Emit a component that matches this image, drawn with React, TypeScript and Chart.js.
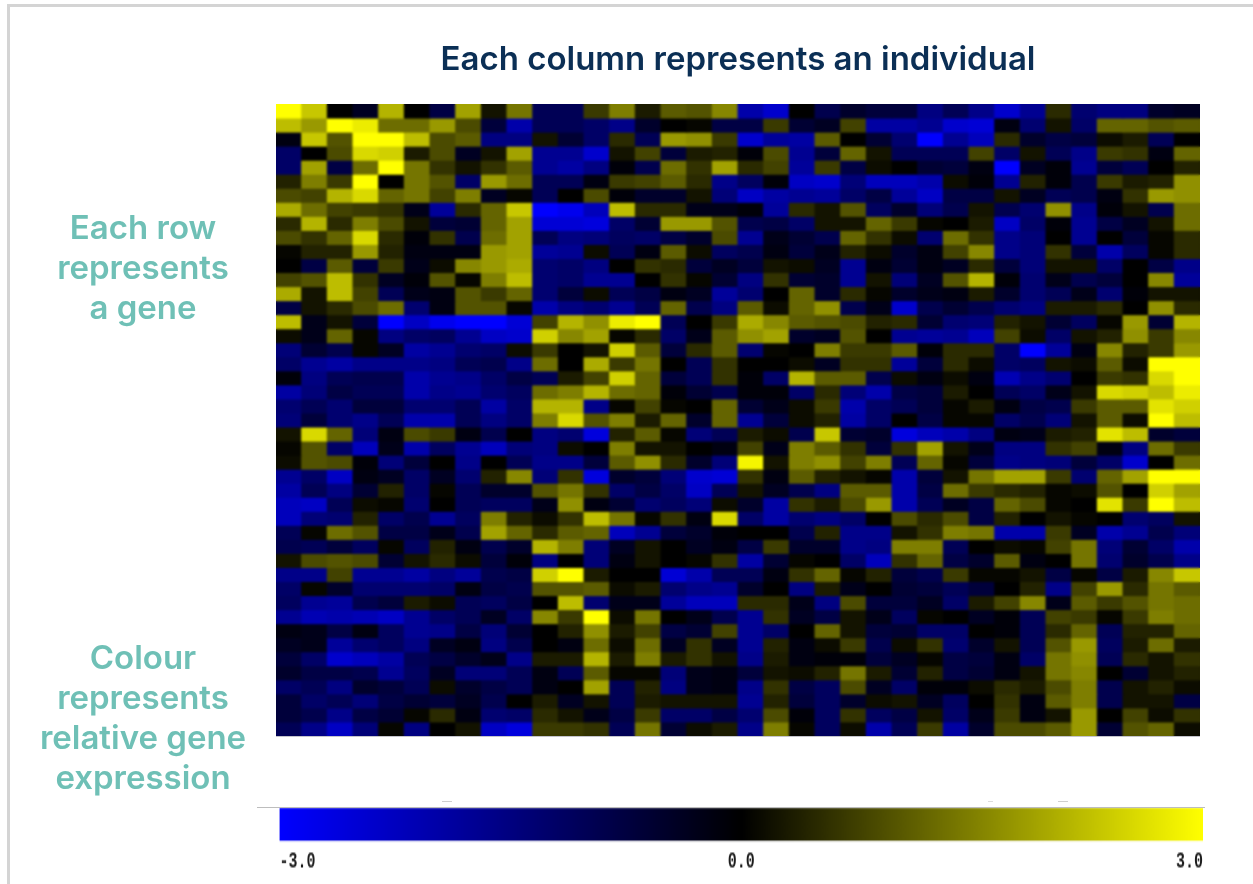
import React, { useEffect, useRef } from "react";
import { Chart, registerables } from "chart.js";

Chart.register(...registerables);

const columns = Array.from({ length: 36 }, (_, i) => `Individual ${i + 1}`);

const row00 = [3,2.4,0,-.4,2.2,0,-.8,2,.3,1.5,-1,-1,.8,1.6,.4,1.2,1.1,1.7,-2,-2.4,0,-.9,-.5,-.7,-.7,-1.5,-1,-1.6,-2.4,-1.7,.6,-1.3,-1.5,-1.5,-.5,-.4];
const row01 = [2.3,1.9,3,2.8,1.4,1.4,1.9,1,-.7,-2,-1,-1,-1.2,-1.6,-.5,0,.1,-.8,-.8,.8,-.6,-.4,.9,-1.9,-1.9,-1.7,-2.4,-2.5,-.2,-1.3,.3,-1.2,1.3,1.3,1.1,1.2];
const row02 = [-.2,2.4,1.1,3,3,2.3,1,1.2,-1.5,-1.5,.3,-.6,-1.2,.6,-1,1.9,1.8,.8,-2.4,-1.8,-1.9,1.2,0,-.6,-1.3,-3,-1.7,-2.2,.6,-.5,-.8,-.7,.2,.4,-1,0];
const row03 = [-1.2,0,1,2.6,2.5,.4,1,-.4,.3,2,-1.7,-1.7,-2.4,.3,.9,-.7,.4,.5,-.1,1,-1.7,-.7,1.3,.3,-1,-1,-1,.9,-1.2,.3,-1,-1.6,.8,.7,-.2,1.3];
const row04 = [-1.2,2,-.8,1.4,3,1.5,.7,.3,.7,1.2,-1.7,-1.9,-1.5,-.1,-.9,1.4,.7,2,.6,.9,-1.8,.8,-.8,.2,0,-.6,-.7,-.2,-3,-.4,-.1,-1.7,-.7,-1,0,.5];
const row05 = [.5,1.6,.8,3,0,1.5,1.1,-1.2,1.9,1.4,-1,-1,-.2,.8,.9,1.2,.6,-1.6,-1.1,-.1,-2.3,-2.4,-1.4,-2.2,-2.2,-2,.2,-.1,-1.7,.5,-.1,-.9,.8,.4,.5,1.8];
const row06 = [1,.9,2.2,2.6,1.3,1.5,.9,1.6,-.4,.1,-1,0,1,-.1,-.5,-.5,.3,-1.4,-2.3,-1.9,-1.7,-1.8,-1.2,-.8,-1.8,-2.3,-.8,-.8,.3,-.4,-1,-.9,-.2,.7,1.9,1.8];
const row07 = [2.1,1.4,.9,.8,.7,-.3,-1.8,.6,1.3,2.4,-3,-2.8,-2.2,2.3,.6,.6,-.3,-.3,-.1,-1.8,.6,.3,1.1,-1.1,-.5,-1.4,-.9,.3,-.9,-1.3,1.8,-1.6,-.1,.3,-.9,1.4];
const row08 = [.6,2.2,.6,1.6,1,.3,-.7,-.6,1.3,2,-2.5,-2.5,-2.6,-1.2,-.6,1.9,1.9,1.1,-.9,-.8,-1.2,.3,.3,1.3,.8,.1,0,.4,-2.3,-1.2,-.1,-1.7,-.8,-.4,.3,1.4];
const row09 = [1,.7,1.3,2.6,.6,-.1,.7,-.9,1.4,2,-1,-1.5,-1.4,-1.1,-1.2,-.8,-.5,1,-1.7,-.3,-.6,-.9,1.3,.7,.2,-1.3,1.4,.7,-1.6,-1.4,0,-1.7,0,-.7,.1,.6];
const row10 = [.1,.5,.5,1.9,.5,-.2,-.2,-.2,1.9,2,-1.8,-1.7,.2,-1,-.2,1.2,.2,-1.1,-.9,-.2,-.7,-.3,.5,.2,-.5,-.2,.9,1.7,-1.6,-1.4,.7,-.7,-2,-1.1,.1,.6];
const row11 = [0,-.8,1.2,-.7,.8,-.3,.2,1.7,1.9,2.1,-1.3,-1.2,-1.5,0,.7,.6,-.7,-.4,-.7,.3,.2,-.4,-1.7,-.2,-.6,-.2,-.4,.6,-.7,-1.4,.3,.3,-1.2,0,-.8,-1.6];
const row12 = [.9,1.1,2.3,.7,-.4,-.1,1.1,.1,1.6,2.3,-1.3,-1.2,-1.7,-1.7,0,.7,.1,-.6,-1.5,.7,-.6,-.5,-1.7,.3,-1.4,-.4,1.1,2.2,-.1,-1.3,-.3,-.9,-.7,0,1.7,-1.8];
const row13 = [2.1,.3,2.3,.9,-1,-.3,-.2,1.1,.8,1.3,-1.3,-.7,.2,-1,-.8,-.2,-.4,-1.8,-1.3,0,1.3,-.5,.6,.1,-.5,-.3,-.2,.4,-.5,-1.3,-1,-.3,-1.3,-.1,.3,.3];
const row14 = [-.8,.3,.6,1,1.4,-1.3,-.2,1.1,1.1,.1,-2,-1.5,-1.3,-1.7,-1,1.3,-.9,-1.5,1.2,.2,1.3,1.8,-.9,-.3,-2.4,-.9,-.6,-.9,-1.3,-1.5,.4,.4,.6,0,1.8,.6];
const row15 = [2.3,-.3,.3,-.7,-3,-2.3,-2.8,-3,-3,-2.5,.9,2.2,1.8,2.8,3,-1,0,.8,2.1,1.7,1.2,1.1,1,.5,.6,-.6,-1.3,-1.4,.5,.3,-.6,-1.1,.1,1.9,-.6,2.2];
const row16 = [.2,-.3,1.3,.1,-1.5,-1.2,-1.1,-1.7,-2.3,-2.4,2.5,1.7,2,.1,.6,-1.2,-.3,1.2,1.8,2,-.5,-.4,1.1,0,-1.7,-1.8,-1.7,-2.2,.9,.2,-1.2,.3,.5,1.8,.8,1.7];
const row17 = [-1.4,-.6,-.9,.1,-.4,-1.9,-1.7,-1.3,-1.2,.2,.8,0,.3,2.5,1.2,-.7,.6,1.2,-1.3,.1,0,1.6,.8,.8,1.2,-.1,.6,.6,-1.2,-3,-1.8,-.2,1.7,.5,.8,1.9];
const row18 = [-1.2,-1.7,-1.9,-1.6,-1.6,-1.6,-1.5,-1,-.9,-1.6,1.4,0,2.1,.8,1.5,0,-1,.7,0,0,.2,-.4,.7,.7,-1.8,-.7,.6,.2,-1.2,-1.1,.3,.2,1.2,.2,3,3];
const row19 = [-.1,-1.5,-1,-.9,-.9,-2,-1.7,-1.6,-1.2,-.8,-1,.4,.9,2.5,1.3,-.7,-1,.7,-.1,-1.2,2.2,1.2,1.2,-.9,.2,-.2,.2,-.2,-2.1,-1.6,-1.3,0,.8,.7,2.6,3];
const row20 = [-1.9,-1.4,-.8,-1,-1,-2,-1.6,-1.7,-1.3,-1.1,1.4,1.6,2.2,1.4,1.3,-.1,-.6,-.9,-.1,-.1,-1.2,.6,-1.4,-2,-.8,-.7,.4,0,-1,-1.2,-.3,.3,2.6,2.5,2.3,2.8];
const row21 = [-1.3,-1,-1.3,-.7,-.7,-1.3,-1.3,-1,-1.9,-1.2,2.2,2.2,-1.6,.1,.9,.1,0,1.3,-.6,-.3,.2,.8,-2,-1.2,-1,-.7,.1,.4,-.2,-.8,-.9,.8,1.2,1.2,2.7,2.5];
const row22 = [-1.4,-.7,-1.3,-1.6,-1,-2,-2,-1,-1.5,-1.2,1.6,2.6,1.1,1.6,.4,1.3,-.5,1.3,-1.7,-.7,.2,.5,-1.9,-1.2,0,-.8,.1,.1,-1.2,-.9,-1.4,.3,1.2,.2,3,2.3];
const row23 = [.3,2.6,1.3,-1.4,-.2,1,.8,-.2,-.9,0,-1.5,-1.3,-2.6,.5,1.2,.1,-1.4,-1,.4,.2,-.9,2.4,-.6,-.5,-2.6,-2.2,-2,-1.5,-.2,-.3,.4,.5,2.7,2.3,-.5,-.7];
const row24 = [.1,1.1,-1.2,-2.2,-.3,-2,-1.1,-1.7,-2.2,-1.4,-1.5,.2,0,1.6,.3,.3,0,-.2,.9,-.3,1.6,1.2,.7,-.7,.7,2,.3,-.3,-1.5,-1.5,.7,.9,-.2,-1.5,1.4,.8];
const row25 = [.2,1.1,1,-.1,-1.4,-.7,0,-1.6,0,-1,-1.6,-1.6,-.7,1.2,1.8,.6,-.5,-1.4,2.9,.3,1.6,1.8,.9,1.6,-1,1.3,.1,-.7,-1.6,-1.5,-1.4,-.7,-1.2,-2.4,0,1.4];
const row26 = [-1.7,-1.2,-2.3,-.2,-.4,-1.2,-.4,-1.3,.5,1.7,-1.4,.7,-2.6,-.5,-.7,-1.4,-2.4,-2.5,.7,-.2,1.2,.5,.3,.1,-2,-.7,.3,1.5,2,2,.8,-1.3,1.3,2,3,3];
const row27 = [-1.9,-1,-1.5,-.6,.5,-1.2,.1,-1,-.5,-.5,1.1,1.5,.7,-1.2,-.8,-1.2,-2.3,-1,.3,-.4,-.9,-1.5,1.2,1.2,-2,-.8,1.4,.8,.6,.5,.1,.2,1.1,0,2.5,2];
const row28 = [-2.2,-2.3,-1,.2,.1,-1.3,0,-1,-1.1,-1.1,-.3,1.8,-.2,-.6,-1.3,-1.1,-1.4,.2,-.5,-1.9,.7,.4,1,1.9,-2,-1,-.4,-.8,1.3,1,.1,0,2.7,.8,3,2.3];
const row29 = [-2.2,-1.4,-1.3,.5,-1.2,-.9,-1.7,-1.1,1.6,.5,.2,.7,2.3,1.5,.1,.7,-.2,2.6,-1.2,-1.9,-1.3,-1.5,-1.2,0,1,.6,1,-.8,.5,0,.3,.1,0,-1.3,-1.1,.3];
const row30 = [-1,.1,1.4,1.1,-.8,-.8,-.3,-.9,2,1.3,.6,1.2,1.3,-2.2,-1.7,-.7,-.5,-.1,0,0,-.9,.5,-1.6,-1.6,.3,.7,1.6,1.5,-2,-2,.8,-.4,-2,-1.7,-.9,-1.4];
const row31 = [-.9,-1,-.7,-1.1,.1,-1.1,.5,-.2,-.9,-.5,2.2,1.6,-1.4,-.4,.3,0,-.4,-.2,-.8,.8,-.5,-.5,-1.6,-1.5,1.6,1.6,-1,0,.2,.1,.9,1.5,-1.4,-.6,-1.2,-2];
const row32 = [.3,1,1.1,1,-.6,.3,.6,.2,-.7,-.1,-1.5,0,-1.4,-.2,.3,0,.1,.7,-1.9,-.6,.1,0,-1.2,-2.2,.7,1.3,-.8,-.5,1.2,-.2,0,1.5,-1.3,-.5,-.9,-1.6];
const row33 = [-1.6,-1.6,.9,-1.7,-1.7,-1.9,-1.5,-1.8,-.9,-.8,2.5,3,.4,0,0,-2.5,-2,-1,-1,-.2,.7,1.3,.1,.5,-.7,-.9,.8,.1,.1,.3,-.8,.1,-.8,.4,1.7,2.4];
const row34 = [-1.2,.1,-.5,-1.3,-1.3,-1.3,-1.2,-.2,-.8,-.9,1.1,1.1,1.2,.2,.4,-1.3,-1.6,-1.7,-.5,0,-1.5,.4,-.3,0,-.6,-.7,-1,-.7,0,.5,-1.6,.9,1.9,.6,1.5,1.2];
const row35 = [-1.1,-1.7,-1.8,-.9,-.7,.4,.2,-1,-1.1,-.8,0,2.3,-1.3,-.3,-.3,-1.8,-2.2,-2.2,.6,.6,-.3,-1.5,1,-.7,-.7,-.4,-1.2,.4,.9,1.7,-.3,1.2,.8,1.1,1.5,1.4];
const row36 = [-1.7,-2.1,-2,-2.1,-2.3,-1.7,-1.2,-1,-.4,-1.2,1.7,.8,3,.2,1.5,0,-.3,-.9,-1.7,.7,-.4,-.8,.3,-.3,-1.1,.1,0,-.4,-.1,-1,.9,.8,.1,.8,1.6,1.4];
const row37 = [-.2,-.3,-.8,-.2,-1.1,-1.7,-1.6,-.8,-1.4,-.6,0,.5,1.8,.4,.9,-.8,-.6,.9,-1.7,-1.2,0,1.3,.3,-.7,-.6,-1.2,-1.2,0,-.1,-1,.6,1.3,-1,.5,.5,1.3];
const row38 = [-.4,-.3,-1.8,-1.3,-1.1,-1.5,-.4,-.2,-1.5,-.9,0,-.2,1.4,.2,1.4,-.4,.7,-.4,-1.7,.5,-.2,.2,.8,-.9,.2,.7,-1.3,-.5,.3,-1,1.1,1.9,-1.1,.4,1.4,.4];
const row39 = [-.7,-1.2,-2.4,-2.2,-1.9,-1,-.8,-.5,-.3,-1.6,.4,.4,2.2,.4,1.6,.4,.7,.3,-1.6,.4,-.2,-.1,-.1,-.7,-.4,.1,-.8,-.7,-.2,-1.2,1.5,1.8,-1,.6,.3,.7];
const row40 = [-.5,-.8,-.8,-.9,-1.7,-1.1,-.4,-1.4,-1.4,-1,-.2,-1,1.2,.1,.1,-1.4,-.3,-.2,-.7,.3,.2,.5,1.5,.4,-.6,.5,-.8,-.6,-.2,.3,1.5,1.7,0,-.6,.3,.5];
const row41 = [-1.2,-1,-1.5,-.5,-.7,-1,.2,-.5,-.8,-1,-.2,0,2,-1,.5,-1.5,-.3,-.2,-1.6,.7,-.8,-1.1,1,-.4,-1.2,-.1,-.1,.2,.6,.4,1,1.6,-.9,.3,.5,.2];
const row42 = [-.7,-1.2,-1,-1.4,-.8,-.6,-.7,-.4,-.9,0,.4,-.4,.3,-1,.4,.3,.3,.3,-1.7,.5,-.7,-1.1,-.5,.2,.3,-.4,-1.1,0,.7,-.2,1.2,1.6,-.9,.3,.3,-.8];
const row43 = [-.7,-.9,-1.6,-.8,-.6,.1,.6,-.2,-1.3,-1.2,.6,.3,-.3,-.8,.8,-1.2,-1.2,-.8,-1.3,1,-.1,-1.1,.7,-1.1,-.8,.3,-1.2,-.3,.8,-.2,.3,1.9,0,.9,.2,.7];
const row44 = [-1,-1.6,-2.3,-1.4,.1,-1.5,0,.3,-2.3,-2.6,.8,.8,.7,-1,1.5,-.6,.2,.4,-1.6,1.6,.1,-1.1,.2,-2,-1,.8,-1.9,-.5,1,1,1.2,1.9,-.6,1.1,1.3,.2];

const geneRows = [
  row00, row01, row02, row03, row04, row05, row06, row07, row08, row09,
  row10, row11, row12, row13, row14, row15, row16, row17, row18, row19,
  row20, row21, row22, row23, row24, row25, row26, row27, row28, row29,
  row30, row31, row32, row33, row34, row35, row36, row37, row38, row39,
  row40, row41, row42, row43, row44,
];

const titleText = "Each column represents an individual";
const rowLabelLines = ["Each row", "represents", "a gene"];
const colourLabelLines = ["Colour", "represents", "relative gene", "expression"];
const scaleMin = -3;
const scaleMax = 3;

function valueColor(v: number) {
  const t = Math.min(Math.abs(v), 3) / 3;
  if (v < 0) return `rgb(0,0,${Math.round(t * 255)})`;
  const level = Math.round(Math.pow(t, 1.12) * 255);
  return `rgb(${level},${level},0)`;
}

const softenPlugin = {
  id: "soften",
  afterDatasetsDraw(chart: any) {
    const { ctx, canvas, chartArea: a } = chart;
    ctx.save();
    ctx.beginPath();
    ctx.rect(a.left, a.top, a.right - a.left, a.bottom - a.top);
    ctx.clip();
    ctx.filter = "blur(1.1px)";
    ctx.drawImage(canvas, 0, 0);
    ctx.restore();
  },
};

const labelStyle = (left: number, top: number): React.CSSProperties => ({
  position: "absolute",
  left,
  top,
  width: 240,
  textAlign: "center",
  font: "600 33px / 40px Inter, sans-serif",
  color: "#6fc0b6",
  whiteSpace: "nowrap",
});

const rule = (left: number, top: number, width: number, height = 1, bg = "#bdbdbd"): React.CSSProperties => ({
  position: "absolute",
  left,
  top,
  width,
  height,
  background: bg,
});

export default function App() {
  const heatRef = useRef<HTMLCanvasElement>(null);
  const barRef = useRef<HTMLCanvasElement>(null);

  useEffect(() => {
    const heat = new Chart(heatRef.current!, {
      type: "bar",
      data: {
        labels: columns,
        datasets: geneRows.map((row, r) => ({
          label: `Gene ${r + 1}`,
          data: row.map(() => [r, r + 1]),
          backgroundColor: row.map(valueColor),
          borderWidth: 0,
          barPercentage: 1,
          categoryPercentage: 1,
          grouped: false,
          inflateAmount: 0.5,
        })),
      } as any,
      options: {
        animation: false,
        responsive: false,
        layout: { padding: { left: 276, right: 53, top: 40, bottom: 148 } },
        plugins: {
          legend: { display: false },
          tooltip: { enabled: false },
          title: {
            display: true,
            text: titleText,
            color: "#0b2f55",
            font: { family: "Inter", size: 33, weight: "600", lineHeight: 1.2 },
            padding: { top: 0, bottom: 24.4 },
          },
        },
        scales: {
          x: { display: false, offset: true, grid: { display: false } },
          y: { display: false, min: 0, max: geneRows.length, reverse: true },
        },
      } as any,
      plugins: [softenPlugin],
    });

    const bar = new Chart(barRef.current!, {
      type: "bar",
      data: {
        labels: ["scale"],
        datasets: [
          {
            data: [[scaleMin, scaleMax]],
            barPercentage: 1,
            categoryPercentage: 1,
            borderWidth: 0,
            backgroundColor: (c: any) => {
              const a = c.chart.chartArea;
              if (!a) return "#000";
              const g = c.chart.ctx.createLinearGradient(a.left, 0, a.right, 0);
              g.addColorStop(0, valueColor(scaleMin));
              g.addColorStop(0.5, valueColor(0));
              g.addColorStop(1, valueColor(scaleMax));
              return g;
            },
          },
        ],
      } as any,
      options: {
        indexAxis: "y",
        animation: false,
        responsive: false,
        layout: { padding: { left: 279.5, right: 50, top: 5.33, bottom: 0 } },
        plugins: { legend: { display: false }, tooltip: { enabled: false } },
        scales: {
          y: { display: false },
          x: {
            type: "linear",
            min: scaleMin,
            max: scaleMax,
            grid: { display: false, drawTicks: false },
            border: { display: false },
            afterFit: (s: any) => {
              s.height = 28.67;
            },
            ticks: {
              stepSize: 3,
              align: "inner",
              maxRotation: 0,
              color: "#1c1c1c",
              padding: 5,
              font: { family: "Liberation Mono", size: 15, weight: "700" },
              callback: (v: any) => Number(v).toFixed(1),
            },
          },
        },
      } as any,
    });

    return () => {
      heat.destroy();
      bar.destroy();
    };
  }, []);

  return (
    <div style={{ position: "absolute", left: 0, top: 0, width: 1253, height: 884, overflow: "hidden", background: "#fff" }}>
      <canvas ref={heatRef} width={1253} height={884} style={{ position: "absolute", left: 0, top: 0 }} />
      <canvas ref={barRef} width={1253} height={56} style={{ position: "absolute", left: 0, top: 800, width: 1253, height: 84 }} />
      <div style={rule(7, 4, 1246, 3, "#d4d4d4")} />
      <div style={rule(7, 4, 3, 880, "#d4d4d4")} />
      <div style={rule(257, 807, 948)} />
      <div style={rule(442, 801, 10, 1, "#cfcfcf")} />
      <div style={rule(988, 801, 5, 1, "#dcdcdc")} />
      <div style={rule(1058, 801, 10, 1, "#cfcfcf")} />
      <div style={rule(276, 736, 924, 1, "#c4c4cc")} />
      <div style={labelStyle(23, 207)}>
        {rowLabelLines.map((t) => (
          <div key={t}>{t}</div>
        ))}
      </div>
      <div style={labelStyle(23, 637)}>
        {colourLabelLines.map((t) => (
          <div key={t}>{t}</div>
        ))}
      </div>
    </div>
  );
}
